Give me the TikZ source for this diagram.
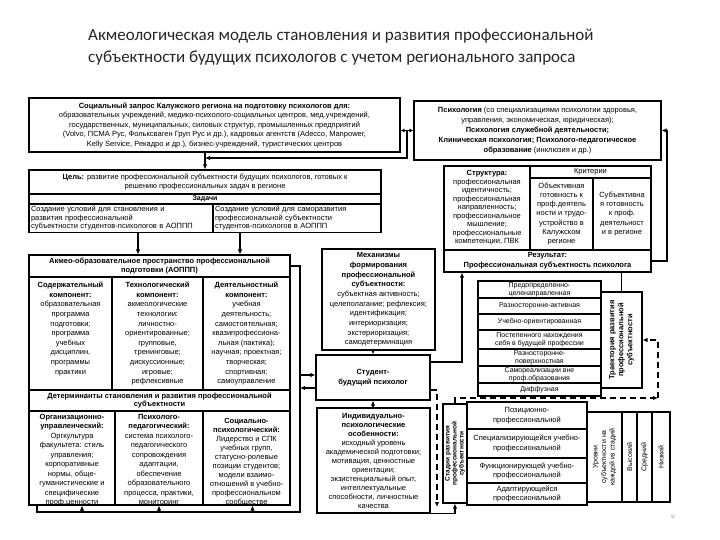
\documentclass[tikz,border=0pt]{standalone}
\usepackage{fontspec}
\setmainfont{Liberation Sans}
\newfontfamily\titlefont{Carlito}
\usetikzlibrary{arrows.meta,calc}
\newcommand{\fsz}[2]{\fontsize{#1}{#2}\selectfont}
\tikzset{
 box/.style={draw=black, line width=1.1pt, inner sep=1pt, align=center, text=black},
 txt/.style={inner sep=0pt, align=center, text=black},
 arr/.style={line width=1.1pt, -{Latex[length=5pt,width=4.5pt]}},
 darr/.style={line width=1.1pt, {Latex[length=4pt,width=4pt]}-{Latex[length=4pt,width=4pt]}},
 ln/.style={line width=1.1pt},
 dsh/.style={line width=1.1pt, dash pattern=on 6pt off 4pt},
}
\begin{document}
\begin{tikzpicture}[x=1pt,y=-1pt]
\useasboundingbox[fill=white] (0,0) rectangle (720,540);

% title
\node[txt, anchor=north west, align=left, font=\titlefont\fsz{17}{22}, text=black!85] (title) at (88,29)
 {Акмеологическая модель становления и развития профессиональной\\субъектности будущих психологов с учетом регионального запроса};

% social request
\node[box, minimum width=371pt, minimum height=54pt, font=\fsz{7.5}{9.5}] (soc) at (214.5,125)
 {\textbf{Социальный запрос Калужского региона на подготовку психологов для:}\\
 образовательных учреждений, медико-психолого-социальных центров, мед.учреждений,\\
 государственных, муниципальных, силовых структур, промышленных предприятий\\
 (Volvo, ПСМА Рус, Фольксваген Груп Рус и др.), кадровых агентств (Adecco, Manpower,\\
 Kelly Service, Рекадро и др.), бизнес-учреждений, туристических центров};

% psychology
\node[box, minimum width=247pt, minimum height=59pt, font=\fsz{7.5}{10}] (psych) at (537.5,130.5)
 {\textbf{Психология} (со специализациями психологии здоровья,\\
 управления, экономическая, юридическая);\\
 \textbf{Психология служебной деятельности;}\\
 \textbf{Клиническая психология; Психолого-педагогическое}\\
 \textbf{образование} (инклюзия и др.)};

% goal and tasks
\node[box, minimum width=352pt, minimum height=24pt, font=\fsz{7.5}{8.5}] (goal) at (205,182)
 {\textbf{Цель:} развитие профессиональной субъектности будущих психологов, готовых к\\решению профессиональных задач в  регионе};
\node[box, minimum width=352pt, minimum height=10pt, font=\bfseries\fsz{7}{8}] (tasks) at (205,199) {Задачи};
\node[box, text width=180pt, inner sep=2pt, minimum height=28pt, align=left, font=\fsz{7.5}{8.5}] (task1) at (121,218)
 {Создание условий для становления и\\развития профессиональной\\субъектности студентов-психологов в АОППП};
\node[box, text width=164pt, inner sep=2pt, minimum height=28pt, align=left, font=\fsz{7.5}{8.5}] (task2) at (297,218)
 {Создание условий для саморазвития\\профессиональной субъектности\\студентов-психологов в АОППП};

% AOPPP
\node[box, minimum width=261pt, minimum height=22pt, font=\bfseries\fsz{7.5}{9}] (aoppHdr) at (159.5,266)
 {Акмео-образовательное пространство профессиональной\\подготовки (АОППП)};
\node[box, minimum width=83pt, minimum height=113pt] (c1) at (70.5,333.5) {};
\node[box, minimum width=91pt, minimum height=113pt] (c2) at (157.5,333.5) {};
\node[box, minimum width=87pt, minimum height=113pt] (c3) at (246.5,333.5) {};
\node[txt, anchor=north, font=\fsz{7.5}{9.6}] (c1t) at (c1.north |- 0,282)
 {\textbf{Содержательный}\\\textbf{компонент:}\\образовательная\\программа\\подготовки;\\программа\\учебных\\дисциплин,\\программы\\практики};
\node[txt, anchor=north, font=\fsz{7.5}{9.6}] (c2t) at (c2.north |- 0,282)
 {\textbf{Технологический}\\\textbf{компонент:}\\акмеологические\\технологии:\\личностно-\\ориентированные;\\групповые,\\тренинговые;\\дискуссионные;\\игровые;\\рефлексивные};
\node[txt, anchor=north, font=\fsz{7.5}{9.6}] (c3t) at (c3.north |- 0,282)
 {\textbf{Деятельностный}\\\textbf{компонент:}\\учебная\\деятельность;\\самостоятельная;\\квазипрофессиона-\\льная (пактика);\\научная; проектная;\\творческая;\\спортивная;\\самоуправление};

% determinants
\node[box, minimum width=261pt, minimum height=21pt, font=\bfseries\fsz{7.5}{8.5}] (detHdr) at (159.5,400.5)
 {Детерминанты становления и развития профессиональной\\субъектности};
\node[box, minimum width=86pt, minimum height=94pt] (d1) at (72,458) {};
\node[box, minimum width=88pt, minimum height=94pt] (d2) at (159,458) {};
\node[box, minimum width=87pt, minimum height=94pt] (d3) at (246.5,458) {};
\node[txt, anchor=north, font=\fsz{7.5}{9.5}] (d1t) at (d1.north |- 0,414)
 {\textbf{Организационно-}\\\textbf{управленческий:}\\Оргкультура\\факультета: стиль\\управления;\\корпоративные\\нормы, обще-\\гуманистические и\\специфические\\проф.ценности};
\node[txt, anchor=north, font=\fsz{7.5}{9.5}] (d2t) at (d2.north |- 0,414)
 {\textbf{Психолого-}\\\textbf{педагогический:}\\система психолого-\\педагогического\\сопровождения\\адаптации,\\обеспечение\\образовательного\\процесса, практики,\\мониторинг};
\node[txt, anchor=north, font=\fsz{7.5}{9}] (d3t) at (d3.north |- 0,418)
 {\textbf{Социально-}\\\textbf{психологический:}\\Лидерство и СПК\\учебных групп,\\статусно-ролевые\\позиции студентов;\\модели взаимо-\\отношений в учебно-\\профессиональном\\сообществе};

% mechanisms, student, individual
\node[box, minimum width=113pt, minimum height=101pt, font=\fsz{7.5}{9.7}] (mech) at (378.5,299.5)
 {\textbf{Механизмы}\\\textbf{формирования}\\\textbf{профессиональной}\\\textbf{субъектности:}\\субъектная активность;\\целеполагание; рефлексия;\\идентификация;\\интериоризация;\\экстериоризация;\\самодетерминация};
\node[box, minimum width=114pt, minimum height=45pt, font=\bfseries\fsz{7.5}{9.5}] (student) at (373,377.5)
 {Студент-\\будущий психолог};
\node[box, minimum width=113pt, minimum height=105pt, font=\fsz{7.5}{9}] (indiv) at (373.5,460.5)
 {\textbf{Индивидуально-}\\\textbf{психологические}\\\textbf{особенности:}\\исходный уровень\\академической подготовки;\\мотивация, ценностные\\ориентации;\\экзистенциальный опыт,\\интеллектуальные\\способности, личностные\\качества};

% structure, criteria, result
\node[box, minimum width=86pt, minimum height=84pt, font=\fsz{7.5}{8.5}] (struct) at (487,208)
 {\textbf{Структура:}\\профессиональная\\идентичность;\\профессиональная\\направленность;\\профессиональное\\мышление;\\профессиональные\\компетенции, ПВК};
\node[box, minimum width=121pt, minimum height=12pt, font=\fsz{7.5}{8}] (critHdr) at (590.5,172) {Критерии};
\node[box, minimum width=63pt, minimum height=72pt, font=\fsz{7.5}{9.2}] (crit1) at (561.5,214)
 {Объективная\\готовность к\\проф.деятель\\ности и трудо-\\устройство в\\Калужском\\регионе};
\node[box, minimum width=58pt, minimum height=72pt, font=\fsz{7.5}{9.2}] (crit2) at (622,214)
 {Субъективна\\я готовность\\к проф.\\деятельност\\и в регионе};
\node[box, minimum width=207pt, minimum height=22pt, font=\bfseries\fsz{7.5}{10}] (result) at (547.5,261)
 {Результат:\\Профессиональная субъектность психолога};

% trajectory list
\node[box, minimum width=123pt, minimum height=17pt, font=\fsz{7}{8}] (t1) at (539.5,289.5) {Предопределенно-\\целенаправленная};
\node[box, minimum width=123pt, minimum height=16pt, font=\fsz{7}{8}] (t2) at (539.5,306) {Разносторонне-активная};
\node[box, minimum width=123pt, minimum height=16pt, font=\fsz{7}{8}] (t3) at (539.5,322) {Учебно-ориентированная};
\node[box, minimum width=123pt, minimum height=19pt, font=\fsz{7}{8}] (t4) at (539.5,339.5) {Постепенного нахождения\\себя в будущей профессии};
\node[box, minimum width=123pt, minimum height=17pt, font=\fsz{7}{8}] (t5) at (539.5,357.5) {Разносторонне-\\поверхностная};
\node[box, minimum width=123pt, minimum height=17pt, font=\fsz{7}{8}] (t6) at (539.5,374.5) {Самореализации вне\\проф.образования};
\node[box, minimum width=123pt, minimum height=13pt, font=\fsz{7}{8}] (t7) at (539.5,389.5) {Диффузная};
\node[box, minimum width=41pt, minimum height=96pt] (trajBox) at (621.5,340) {};
\node[txt, rotate=90, font=\bfseries\fsz{7.5}{9}] (trajT) at (trajBox.center)
 {Траектория развития\\профессиональной\\субъектности};

% stages
\node[box, minimum width=24pt, minimum height=99pt] (stage) at (455,453.5) {};
\node[txt, rotate=90, font=\bfseries\fsz{6.5}{7}] (stageT) at (stage.center)
 {Стадии развития\\профессиональной\\субъектности};
\node[box, minimum width=120pt, minimum height=27pt, font=\fsz{7.5}{9.5}] (s1) at (527,415.5) {Позиционно-\\профессиональной};
\node[box, minimum width=120pt, minimum height=29pt, font=\fsz{7.5}{9.5}] (s2) at (527,443.5) {Специализирующейся учебно-\\профессиональной};
\node[box, minimum width=120pt, minimum height=25pt, font=\fsz{7.5}{9}] (s3) at (527,470.5) {Функционирующей учебно-\\профессиональной};
\node[box, minimum width=120pt, minimum height=22pt, font=\fsz{7.5}{9}] (s4) at (527,494) {Адаптирующейся\\профессиональной};

% levels
\node[box, minimum width=35pt, minimum height=90pt] (lv0) at (604.5,457) {};
\node[txt, rotate=90, font=\fsz{7}{8.5}] (lv0t) at (lv0.center) {Уровни\\субъектности на\\каждой из стадий};
\node[box, minimum width=15pt, minimum height=90pt] (lv1) at (629.5,457) {};
\node[txt, rotate=90, font=\fsz{7}{8}] (lv1t) at (lv1.center) {Высокий};
\node[box, minimum width=15pt, minimum height=90pt] (lv2) at (644.5,457) {};
\node[txt, rotate=90, font=\fsz{7}{8}] (lv2t) at (lv2.center) {Средний};
\node[box, minimum width=18pt, minimum height=90pt] (lv3) at (661,457) {};
\node[txt, rotate=90, font=\fsz{7}{8}] (lv3t) at (lv3.center) {Низкий};

\node[txt, font=\fsz{6}{6}, text=black!45] (omark) at (673,517) {о};

% ---------- connectors ----------
\coordinate (j1) at (407,0);
\coordinate (h1) at (0,158);
\draw[arr] (soc.south -| goal.north) -- (goal.north);
\draw[darr] (soc.east |- psych.west) -- (psych.west);
\draw[arr] (j1 |- psych.west) -- (j1 |- h1) -- (goal.north |- h1);

\draw[arr] ([xshift=17pt]task1.south) -- ([xshift=17pt]task1.south |- aoppHdr.north);
\draw[arr] ([xshift=-57pt]task2.south) -- ([xshift=-57pt]task2.south |- aoppHdr.north);

% frame collecting determinants
\coordinate (fr1) at (300,512);
\coordinate (fr2) at (37,512);
\draw[ln] (aoppHdr.east) -| (fr1) -- (fr2) -- (fr2 |- d1.south);
\draw[arr] ([xshift=10pt]d1.south |- fr1) -- ([xshift=10pt]d1.south);
\draw[arr] (d2.south |- fr1) -- (d2.south);
\draw[arr] ([xshift=6pt]d3.south |- fr1) -- ([xshift=6pt]d3.south);

\coordinate (sa) at (300,375);
\coordinate (sb) at (300,388);
\draw[arr] (sa) -- (student.west |- sa);
\draw[arr] (student.west |- sb) -- (sb);

\draw[arr] (mech.south -| student.north) -- (student.north);
\draw[arr] (indiv.north -| student.south) -- (student.south);

\coordinate (y362) at (0,362);
\coordinate (x462) at (462,0);
\draw[arr] (student.east |- y362) -| (result.south -| x462);

\draw[ln] (result.south -| trajBox.north) -- (trajBox.north);

\coordinate (fb) at (667,0);
\draw[arr] (result.east) -| (fb |- psych.east) -- (psych.east);

% dashed path from student
\coordinate (dA) at (437,390);
\coordinate (dB) at (437,507);
\draw[dsh, -{Latex[length=5pt,width=4.5pt]}] (student.east |- dA) -- (dA) -- (dB);
\draw[arr] (indiv.south east) -| (stage.south);

% dashed from stages to trajectory
\coordinate (dl) at (658,398);
\draw[dsh, -{Latex[length=5pt,width=4.5pt]}] (stage.north) |- (dl);
\draw[dsh, -{Latex[length=5pt,width=4.5pt]}] (dl) |- (trajBox.east);
\end{tikzpicture}
\end{document}
